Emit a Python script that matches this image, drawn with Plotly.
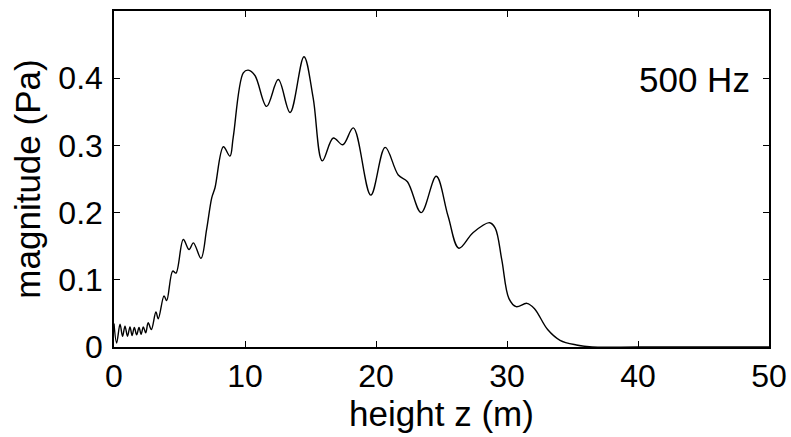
import plotly.graph_objects as go

height_m = [0, 0.2, 0.46, 0.65, 0.84, 1.03, 1.22, 1.38, 1.55, 1.73, 1.91, 2.07, 2.24, 2.42,
            2.61, 2.85, 3.2, 3.38, 3.82, 4.02, 4.48, 4.73, 5.29, 5.73, 6.06, 6.64, 7.07, 7.46,
            7.71, 8.35, 8.85, 9.1, 9.87, 10.25, 10.76, 11.65, 12.54, 13.44, 14.5, 15.2, 15.9,
            16.74, 17.47, 18.27, 19.6, 20.7, 21.7, 22.4, 23.45, 24.6, 25.5, 26.33, 27.4, 28.67,
            29.1, 29.6, 30.15, 30.7, 31.52, 32.1, 33.1, 34.05, 35.3, 36.5, 40, 45, 50]
magnitude_pa = [0.035, 0.006, 0.034, 0.016, 0.031, 0.016, 0.030, 0.017, 0.029, 0.018, 0.029,
                0.019, 0.030, 0.021, 0.036, 0.026, 0.052, 0.042, 0.076, 0.069, 0.113, 0.110,
                0.160, 0.145, 0.155, 0.132, 0.175, 0.222, 0.237, 0.298, 0.284, 0.312, 0.408,
                0.412, 0.404, 0.358, 0.398, 0.349, 0.432, 0.371, 0.277, 0.311, 0.301, 0.326,
                0.226, 0.297, 0.256, 0.246, 0.200, 0.254, 0.195, 0.147, 0.170, 0.185, 0.177,
                0.130, 0.072, 0.060, 0.065, 0.057, 0.026, 0.010, 0.003, 0.0, 0.0, 0.0, 0.0]

x_ticks = [0, 10, 20, 30, 40, 50]
y_ticks = [0, 0.1, 0.2, 0.3, 0.4]
y_tick_labels = ["0", "0.1", "0.2", "0.3", "0.4"]
label_text = "500 Hz"

fam = "Liberation Sans, Arial, sans-serif"
tick_font = dict(family=fam, size=32, color="black")
title_font = dict(family=fam, size=35, color="black")

fig = go.Figure()
fig.add_trace(go.Scatter(x=height_m, y=magnitude_pa, mode="lines",
                         line=dict(color="black", width=1.4, shape="spline", smoothing=1.0),
                         showlegend=False))

fig.add_annotation(x=44.3, y=0.398, text=label_text, showarrow=False,
                   xanchor="center", yanchor="middle", font=title_font)

axis_common = dict(showline=True, linecolor="black", linewidth=1.5, mirror="ticks",
                   ticks="inside", ticklen=6, tickwidth=1.2, tickcolor="black",
                   showgrid=False, zeroline=False, tickfont=tick_font, automargin=False)

fig.update_xaxes(range=[0, 50], tickvals=x_ticks, ticklabelstandoff=0,
                 title=dict(text="height z (m)", font=title_font, standoff=5),
                 **axis_common)
fig.update_yaxes(range=[0, 0.5], tickvals=y_ticks, ticktext=y_tick_labels, ticklabelstandoff=3,
                 title=dict(text="magnitude (Pa)", font=title_font, standoff=7), **axis_common)

fig.update_layout(width=791, height=437, margin=dict(l=114, r=22, t=11, b=90),
                  plot_bgcolor="white", paper_bgcolor="white")

fig.write_html("out.html", config={"displayModeBar": False},
               post_script="document.body.style.margin='0';document.body.style.overflow='hidden';")
